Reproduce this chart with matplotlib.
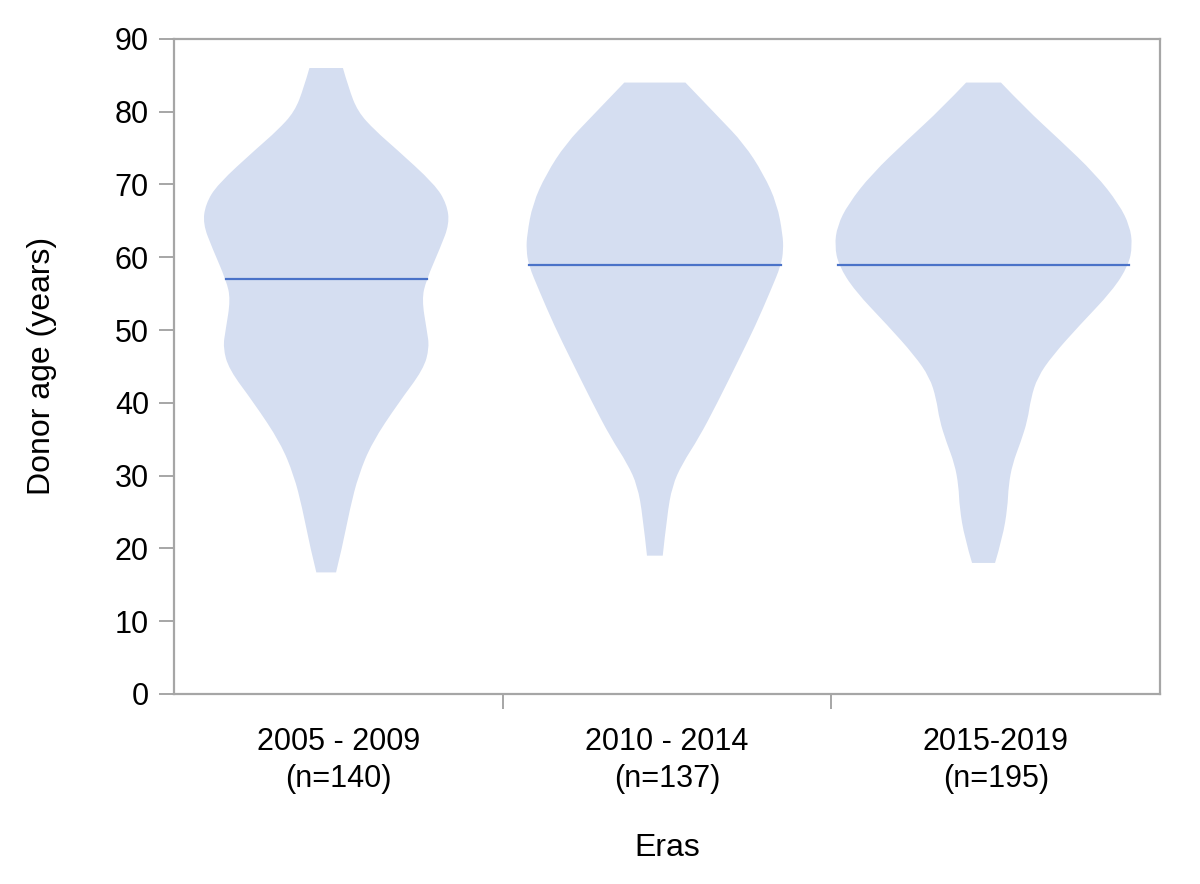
import matplotlib.pyplot as plt
from matplotlib.path import Path
from matplotlib.patches import PathPatch
import numpy as np

FILL = '#d5def1'
MEDIAN = '#4a72c8'
AXIS = '#a6a6a6'
FONT = ['Liberation Sans', 'DejaVu Sans']

eras = ['2005 - 2009\n(n=140)', '2010 - 2014\n(n=137)', '2015-2019\n(n=195)']
medians = [57, 59, 59]

# violin outline: age (years) and half width (fraction of a band)
ages_0 = [16.7, 20, 25.6, 30, 34.5, 40, 44.6, 47.6, 50, 54.2, 56.8, 61.3, 64.6, 67.3, 70, 75, 77.4, 80, 83.3, 86]
half_0 = [0.030, 0.048, 0.073, 0.098, 0.139, 0.220, 0.296, 0.314, 0.306, 0.291, 0.304, 0.347, 0.375, 0.367,
          0.331, 0.210, 0.149, 0.096, 0.068, 0.051]

ages_1 = [19, 24.5, 28.6, 31.6, 35.2, 39.9, 45.9, 50.6, 55.4, 58.9, 61, 63.1, 67.3, 71.4, 75.6, 79.2, 84]
half_1 = [0.024, 0.037, 0.053, 0.083, 0.134, 0.189, 0.255, 0.306, 0.352, 0.384, 0.391, 0.389, 0.372, 0.331,
          0.271, 0.195, 0.093]

ages_2 = [18, 21.5, 25.6, 28.6, 31.6, 34.6, 37.6, 40.6, 43.5, 46.5, 50.6, 55.4, 58.9, 61.6, 64.3, 67.3, 71.4,
          76.2, 80.4, 84]
half_2 = [0.035, 0.058, 0.073, 0.076, 0.088, 0.113, 0.134, 0.144, 0.164, 0.210, 0.291, 0.392, 0.441, 0.453,
          0.445, 0.412, 0.341, 0.230, 0.129, 0.053]

profiles = [(ages_0, half_0), (ages_1, half_1), (ages_2, half_2)]


def violin_path(center, ages, half):
    """Closed outline, corners rounded with quadratic curves through midpoints"""
    ages = np.asarray(ages, float)
    half = np.asarray(half, float)
    right = list(zip(center + half, ages))
    left = list(zip(center - half[::-1], ages[::-1]))
    pts = right + left
    verts = [pts[0]]
    codes = [Path.MOVETO]
    # flat bottom / top edges stay straight
    for side in (right, left):
        verts.append(side[0])
        codes.append(Path.LINETO)
        for i in range(1, len(side) - 1):
            mid = ((side[i][0] + side[i + 1][0]) / 2, (side[i][1] + side[i + 1][1]) / 2)
            if i == len(side) - 2:
                mid = side[i + 1]
            verts += [side[i], mid]
            codes += [Path.CURVE3, Path.CURVE3]
    verts.append(pts[0])
    codes.append(Path.CLOSEPOLY)
    return Path(verts, codes)


fig = plt.figure(figsize=(12, 8.84), dpi=100)
ax = fig.add_axes([0.145, 0.215, 0.8217, 0.741])

for i, (ages, half) in enumerate(profiles):
    c = i + 0.5 - 0.037
    ax.add_patch(PathPatch(violin_path(c, ages, half), facecolor=FILL, edgecolor='none', zorder=1))
    w = np.interp(medians[i], ages, half)
    ax.plot([c - w, c + w], [medians[i], medians[i]], color=MEDIAN, lw=1.6, zorder=2)

ax.set_xlim(0, 3)
ax.set_ylim(0, 90)
ax.set_yticks(range(0, 91, 10))
ax.set_xticks([1, 2])
ax.set_xticklabels([])
ax.set_xticks([0.5, 1.5, 2.5], minor=True)
ax.set_xticklabels(eras, minor=True, fontsize=22, family=FONT, linespacing=1.28)
ax.tick_params(axis='x', which='minor', length=0, pad=24)
ax.tick_params(axis='both', which='major', length=11, width=1.4, color=AXIS, labelsize=22)
ax.tick_params(axis='y', pad=7)
for lab in ax.get_yticklabels():
    lab.set_family(FONT)

for s in ax.spines.values():
    s.set_color(AXIS)
    s.set_linewidth(1.6)

ax.set_ylabel('Donor age (years)', fontsize=23, labelpad=42, family=FONT)
ax.set_xlabel('Eras', fontsize=23, labelpad=28, family=FONT)

fig.savefig('out.png', dpi=100, facecolor='white')
